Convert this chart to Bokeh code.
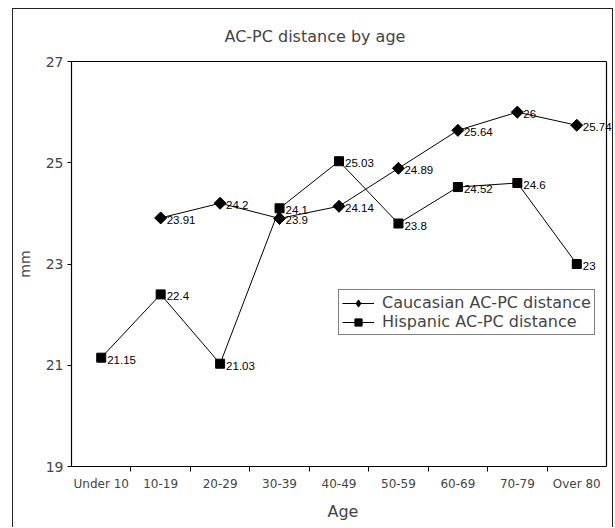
import math
from bokeh.plotting import figure
from bokeh.models import (Range1d, FixedTicker, ColumnDataSource, Legend, LegendItem, Label,
                          LinearAxis, Span)
from bokeh.embed import file_html
from bokeh.resources import INLINE

# ---- data ----
categories = ["Under 10", "10-19", "20-29", "30-39", "40-49", "50-59", "60-69", "70-79", "Over 80"]
caucasian = [float("nan"), 23.91, 24.2, 23.9, 24.14, 24.89, 25.64, 26.0, 25.74]
hispanic = [21.15, 22.4, 21.03, 24.1, 25.03, 23.8, 24.52, 24.6, 23.0]
y_ticks = [19, 21, 23, 25, 27]
series_names = ["Caucasian AC-PC distance", "Hispanic AC-PC distance"]

FONT = "DejaVu Sans"
LABEL_FONT = "Liberation Sans"
n = len(categories)
xs = [i + 0.5 for i in range(n)]

# the visible box ends 8px before the canvas edge so that end labels are not clipped
x_pad = n * 8.0 / 535.0

p = figure(width=601, height=519, output_backend="svg", toolbar_location=None,
           x_range=Range1d(0, n + x_pad), y_range=Range1d(19, 27),
           title="AC-PC distance by age", margin=(8, 2, 0, 12),
           min_border_left=56, min_border_right=0, min_border_top=52, min_border_bottom=62)
p.styles = {"border-left": "1px solid #222", "border-top": "1px solid #222",
            "border-right": "1px solid #222"}

p.title.align = "left"
p.title.offset = 153
p.title.text_font = FONT
p.title.text_font_size = "16px"
p.title.text_font_style = "normal"
p.title.standoff = 31

p.grid.visible = False
p.outline_line_color = None
p.background_fill_color = "white"
p.border_fill_color = "white"

# x axis
p.xaxis.bounds = (0, n)
p.xaxis.ticker = FixedTicker(ticks=xs, minor_ticks=list(range(1, n)))
p.xaxis.major_label_overrides = {x: c for x, c in zip(xs, categories)}
p.xaxis.major_tick_line_color = None
p.xaxis.major_tick_out = 0
p.xaxis.major_tick_in = 0
p.xaxis.minor_tick_line_color = "black"
p.xaxis.minor_tick_out = 5
p.xaxis.minor_tick_in = 0
p.xaxis.major_label_standoff = 5
p.xaxis.major_label_text_font = FONT
p.xaxis.major_label_text_font_size = "12px"
p.xaxis.axis_label = "Age"
p.xaxis.axis_label_text_font = FONT
p.xaxis.axis_label_text_font_size = "16px"
p.xaxis.axis_label_text_font_style = "normal"
p.xaxis.axis_label_standoff = 8
p.xaxis.axis_line_width = 1.2

# y axis
p.yaxis.ticker = FixedTicker(ticks=y_ticks)
p.yaxis.minor_tick_line_color = None
p.yaxis.major_tick_out = 4
p.yaxis.major_tick_in = 0
p.yaxis.major_label_standoff = 4
p.yaxis.major_label_text_font = FONT
p.yaxis.major_label_text_font_size = "14px"
p.yaxis.axis_label = "mm"
p.yaxis.axis_label_text_font = FONT
p.yaxis.axis_label_text_font_size = "14px"
p.yaxis.axis_label_text_font_style = "normal"
p.yaxis.axis_label_standoff = 10
p.yaxis.axis_line_width = 1.2
p.axis.axis_line_color = "black"

# top and right edges of the plot box
top_axis = LinearAxis(bounds=(0, n), ticker=FixedTicker(ticks=[]), axis_line_color="black",
                      axis_line_width=1.2, major_tick_line_color=None, minor_tick_line_color=None,
                      major_tick_out=0, major_tick_in=0, major_label_standoff=0,
                      major_label_text_font_size="0px")
p.add_layout(top_axis, "above")
p.add_layout(Span(location=n, dimension="height", line_color="black", line_width=1.2))

def fmt(v):
    return "{:g}".format(v)

src_c = ColumnDataSource(dict(x=xs, y=caucasian))
src_h = ColumnDataSource(dict(x=xs, y=hispanic))

lc = p.line("x", "y", source=src_c, line_color="black", line_width=1)
mc = p.scatter("x", "y", source=src_c, marker="square", angle=math.pi / 4, size=8.5,
               fill_color="black", line_color="black")
lh = p.line("x", "y", source=src_h, line_color="black", line_width=1)
mh = p.scatter("x", "y", source=src_h, marker="square", size=9, fill_color="black", line_color="black")

# legend-only glyph for the diamond (legend does not rotate markers)
mc_leg = p.scatter(x=[float("nan")], y=[float("nan")], marker="diamond", size=20,
                   fill_color="black", line_color="black")

for vals in (caucasian, hispanic):
    for x, v in zip(xs, vals):
        if math.isnan(v):
            continue
        p.add_layout(Label(x=x, y=v, text=fmt(v), x_offset=6, y_offset=-2,
                           text_baseline="middle", text_align="left", text_font=LABEL_FONT,
                           text_font_size="11.5px", text_color="black"))

legend = Legend(items=[LegendItem(label=series_names[0], renderers=[lc, mc_leg]),
                       LegendItem(label=series_names[1], renderers=[lh, mh])],
                location=(267, 131))
legend.label_text_font = FONT
legend.label_text_font_size = "16px"
legend.glyph_width = 32
legend.glyph_height = 18
legend.label_height = 19
legend.label_standoff = 8
legend.padding = 3
legend.spacing = 0
legend.margin = 0
legend.border_line_color = "black"
legend.border_line_width = 1
legend.background_fill_alpha = 1
p.add_layout(legend, "center")

open("out.html", "w").write(file_html(p, INLINE))
